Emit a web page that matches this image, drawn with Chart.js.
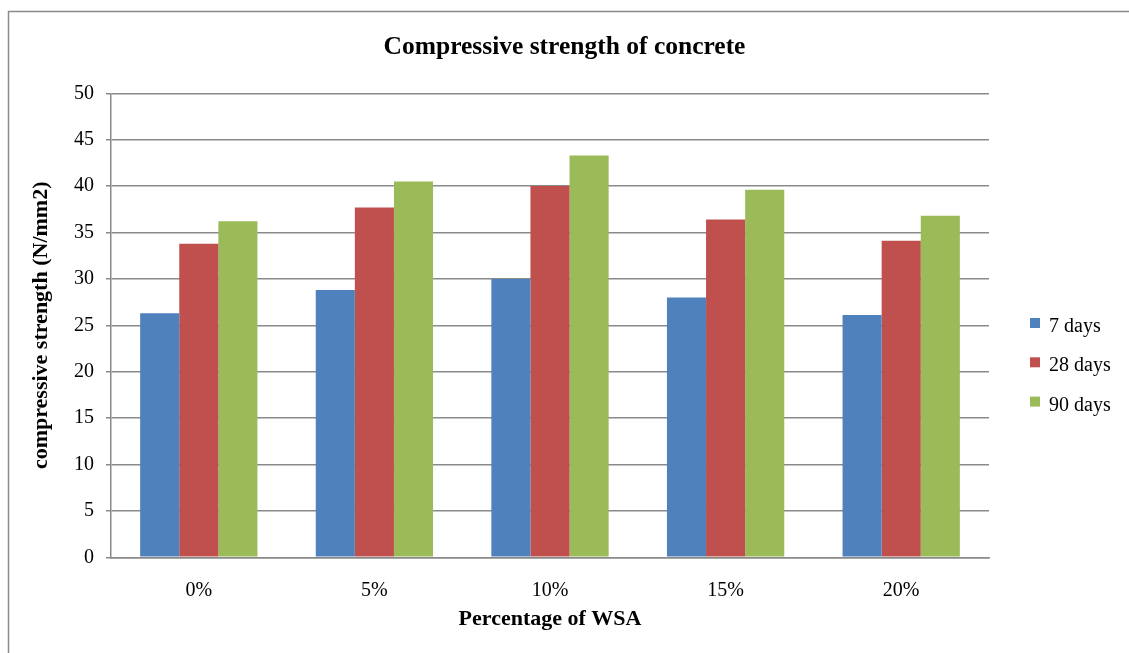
<!DOCTYPE html>
<html>
<head>
<meta charset="utf-8">
<style>
  html, body { margin: 0; padding: 0; background: #fff; }
  #wrap { position: relative; width: 1129px; height: 653px; }
</style>
<script src="https://cdn.jsdelivr.net/npm/chart.js@4/dist/chart.umd.min.js"></script>
</head>
<body>
<div id="wrap"><canvas id="c" width="1129" height="653"></canvas></div>
<script>
// Replacement level of WSA in the mix
const categories = ['0%', '5%', '10%', '15%', '20%'];
// Compressive strength (N/mm2) at each curing age
const days7 = [26.3, 28.8, 30.0, 28.0, 26.1];
const days28 = [33.8, 37.7, 40.0, 36.4, 34.1];
const days90 = [36.2, 40.5, 43.3, 39.6, 36.8];
const seriesNames = ['7 days', '28 days', '90 days'];
const seriesColors = ['#4F81BD', '#C0504D', '#9BBB59'];
const yTicks = [0, 5, 10, 15, 20, 25, 30, 35, 40, 45, 50];

const serif = '"Liberation Serif", "Times New Roman", serif';
const gridGray = '#8a8a8a';

// Outer frame of the chart box
const framePlugin = {
  id: 'frame',
  beforeDraw(chart) {
    const ctx = chart.ctx;
    ctx.save();
    ctx.strokeStyle = '#8a8a8a';
    ctx.lineWidth = 1.5;
    ctx.beginPath();
    ctx.moveTo(8.5, chart.height);
    ctx.lineTo(8.5, 11.5);
    ctx.lineTo(chart.width, 11.5);
    ctx.stroke();
    ctx.restore();
  }
};

// Legend drawn to the right of the plot, one entry per dataset
const sideLegend = {
  id: 'sideLegend',
  afterDraw(chart) {
    const ctx = chart.ctx;
    const x0 = chart.chartArea.right + 41;
    const y0 = 318;
    const step = 39.3;
    ctx.save();
    ctx.font = '20px ' + serif;
    ctx.textBaseline = 'alphabetic';
    ctx.textAlign = 'left';
    chart.data.datasets.forEach((ds, i) => {
      const y = y0 + i * step;
      ctx.fillStyle = ds.backgroundColor;
      ctx.fillRect(x0, y, 10, 10);
      ctx.fillStyle = '#000';
      ctx.fillText(ds.label, x0 + 19, y + 14);
    });
    ctx.restore();
  }
};

const datasets = [days7, days28, days90].map((vals, i) => ({
  label: seriesNames[i],
  data: vals,
  backgroundColor: seriesColors[i],
  borderWidth: 0,
  categoryPercentage: 0.668,
  barPercentage: 1.0
}));

new Chart(document.getElementById('c'), {
  type: 'bar',
  data: { labels: categories, datasets },
  options: {
    responsive: false,
    animation: false,
    devicePixelRatio: 1,
    layout: { padding: 0 },
    plugins: {
      legend: { display: false },
      tooltip: { enabled: false },
      title: {
        display: true,
        text: 'Compressive strength of concrete',
        color: '#000',
        font: { family: serif, size: 25.5, weight: 'bold', lineHeight: 1.2 },
        padding: { top: 31.7, bottom: 31 }
      }
    },
    scales: {
      x: {
        grid: { display: false },
        border: { display: true, color: gridGray, width: 1.5 },
        ticks: {
          color: '#000',
          font: { family: serif, size: 20 },
          padding: 13
        },
        title: {
          display: true,
          text: 'Percentage of WSA',
          color: '#000',
          font: { family: serif, size: 22, weight: 'bold', lineHeight: 1.2 },
          padding: { top: 0, bottom: 20 }
        },
        afterFit(scale) { scale.height = 95.7; }
      },
      y: {
        min: 0,
        max: 50,
        afterBuildTicks(scale) { scale.ticks = yTicks.map(v => ({ value: v })); },
        grid: { color: gridGray, lineWidth: 1.5, tickLength: 5, drawTicks: true },
        border: { display: true, color: gridGray, width: 1.5 },
        ticks: {
          color: '#000',
          font: { family: serif, size: 20 },
          padding: 12
        },
        title: {
          display: true,
          text: 'compressive strength (N/mm2)',
          color: '#000',
          font: { family: serif, size: 22, weight: 'bold', lineHeight: 1.2 },
          padding: { top: 28, bottom: 0 }
        },
        afterFit(scale) { scale.width = 111; }
      },
      // empty right-hand strip that leaves room for the legend
      legendSpace: {
        type: 'linear',
        position: 'right',
        grid: { display: false, drawTicks: false },
        border: { display: false },
        ticks: { display: false },
        afterFit(scale) { scale.width = 140; }
      }
    }
  },
  plugins: [framePlugin, sideLegend]
});
</script>
</body>
</html>
